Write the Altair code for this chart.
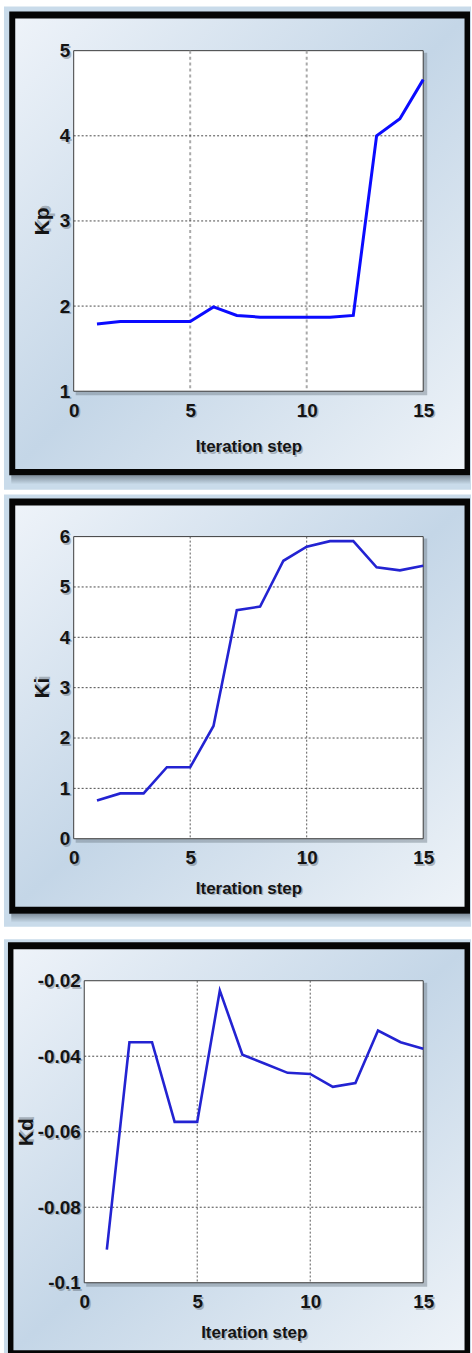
import altair as alt
import pandas as pd

# PID gains recorded at every tuning iteration
steps = list(range(1, 16))
kp = [1.79, 1.82, 1.82, 1.82, 1.82, 1.99, 1.89, 1.87, 1.87, 1.87, 1.87, 1.89, 4.00, 4.20, 4.66]
ki = [0.76, 0.90, 0.90, 1.42, 1.42, 2.24, 4.54, 4.61, 5.52, 5.80, 5.91, 5.91, 5.39, 5.33, 5.42]
kd = [-0.0912, -0.0363, -0.0363, -0.0574, -0.0574, -0.0226, -0.0396, -0.0420,
      -0.0444, -0.0447, -0.0481, -0.0471, -0.0332, -0.0363, -0.0380]

x_ticks = [0, 5, 10, 15]
kp_ticks = [1, 2, 3, 4, 5]
ki_ticks = [0, 1, 2, 3, 4, 5, 6]
kd_ticks = [-0.1, -0.08, -0.06, -0.04, -0.02]

FONT = "Liberation Sans Narrow, Liberation Sans, Arial, sans-serif"
TEXT = "#141414"
SHADOW = "#4d5863"
TILE = "#c9dbea"
LABEL_SIZE, TITLE_SIZE, YTITLE_SIZE = 19, 17, 21
X_PAD, Y_PAD = 10, 4

inner_fill = alt.LinearGradient(
    gradient="linear", x1=0, y1=0, x2=1, y2=1,
    stops=[alt.GradientStop(color="#eef3f9", offset=0),
           alt.GradientStop(color="#c4d6e7", offset=0.5),
           alt.GradientStop(color="#eef3f8", offset=1)],
)
border_shadow = alt.LinearGradient(
    gradient="linear", x1=0, y1=0, x2=0, y2=1,
    stops=[alt.GradientStop(color="#7f8e9b", offset=0),
           alt.GradientStop(color=TILE, offset=1)],
)

one = pd.DataFrame({"k": [0]})


def box(x0, x1, y0, y1, **mark):
    return alt.Chart(one).mark_rect(**mark).encode(
        x=alt.value(x0), x2=alt.value(x1), y=alt.value(y0), y2=alt.value(y1)
    )


def shade_text(df, **enc):
    # soft grey copy of a label, sitting just below/right of the real one
    return alt.Chart(df).mark_text(
        font=enc.pop("font"), fontSize=enc.pop("size"), fontWeight="bold",
        color=SHADOW, opacity=0.38, dx=2, dy=2, **enc.pop("mark", {})
    ).encode(**enc)


def panel(values, label, yticks, ydomain, h, geo, color, stroke_w, vgrid_style):
    w = 351
    px = geo.get("plot_left", 0)      # left edge of the plotting box inside the panel
    data = pd.DataFrame({"step": steps, "value": values})
    xs = alt.Scale(domain=[0, 15], range=[px, w], nice=False, zero=False)
    ys = alt.Scale(domain=ydomain, nice=False, zero=False)
    x_axis = alt.Axis(
        values=x_ticks, title="Iteration step", grid=False, domain=False,
        ticks=False, labelFlush=False, labelOverlap=False, labelPadding=X_PAD,
        labelFont=FONT, labelFontSize=LABEL_SIZE, labelFontWeight="bold", labelColor=TEXT,
        titleFont=FONT, titleFontSize=TITLE_SIZE, titleFontWeight="bold", titleColor=TEXT,
        titleY=geo["xtitle"], titleBaseline="middle", zindex=1)
    y_axis = alt.Axis(
        values=yticks, title=label, grid=False, domain=False, ticks=False,
        labelFlush=False, labelOverlap=False, labelPadding=Y_PAD,
        labelExpr="toString(datum.value)", offset=-px,
        labelFont=FONT, labelFontSize=LABEL_SIZE, labelFontWeight="bold", labelColor=TEXT,
        titleFont=FONT, titleFontSize=YTITLE_SIZE, titleFontWeight="bold", titleColor=TEXT,
        titleX=geo["ytitle"], titleBaseline="middle", zindex=1)

    tl, tt, tb = geo["tile"]          # left, top, bottom of the outer tile
    bl, bt, bb = geo["border"]        # outer edge of the black frame
    il, it, ib = geo["inner"]         # inner edge of the black frame
    right_tile, right_outer, right_inner = w + 48, w + 47, w + 41.5

    layers = [
        box(tl, right_tile, tt, geo["extent"], opacity=0),
        box(tl, right_tile, tt, tb, fill=TILE),
        box(bl + 2, right_outer, bb, min(bb + 9, tb), fill=border_shadow),
        box(bl, right_outer, bt, bb, fill="#050505"),
        box(il, right_inner, it, ib, fill=inner_fill),
        box(px + 2, w + 4, 2, h + 4, fill="#6f7c88", opacity=0.45),
        box(px, w, 0, h, fill="white", stroke="#3a3a3a", strokeWidth=1),
    ]

    xl = pd.DataFrame({"step": x_ticks, "txt": [str(v) for v in x_ticks]})
    yl = pd.DataFrame({"value": yticks, "txt": [str(v) for v in yticks]})
    shadows = [
        shade_text(xl, font=FONT, size=LABEL_SIZE, mark={"baseline": "top"},
                   x=alt.X("step:Q", scale=xs, axis=x_axis),
                   y=alt.value(h + X_PAD), text="txt:N"),
        shade_text(yl, font=FONT, size=LABEL_SIZE,
                   mark={"align": "right", "baseline": "middle"},
                   y=alt.Y("value:Q", scale=ys, axis=y_axis),
                   x=alt.value(px - Y_PAD), text="txt:N"),
        shade_text(pd.DataFrame({"txt": ["Iteration step"]}), font=FONT, size=TITLE_SIZE,
                   mark={"baseline": "middle"},
                   x=alt.value((px + w) / 2), y=alt.value(h + geo["xtitle"]), text="txt:N"),
        shade_text(pd.DataFrame({"txt": [label]}), font=FONT, size=YTITLE_SIZE,
                   mark={"baseline": "middle", "angle": 270},
                   x=alt.value(px + geo["ytitle"]), y=alt.value(h / 2), text="txt:N"),
    ]

    line = alt.Chart(data).mark_line(color=color, strokeWidth=stroke_w).encode(
        x=alt.X("step:Q", scale=xs, axis=x_axis),
        y=alt.Y("value:Q", scale=ys, axis=y_axis),
    )
    vgrid = alt.Chart(pd.DataFrame({"step": x_ticks[1:-1]})).mark_rule(
        **vgrid_style
    ).encode(x=alt.X("step:Q", scale=xs, axis=x_axis), y=alt.value(0), y2=alt.value(h))
    hgrid = alt.Chart(pd.DataFrame({"value": yticks[1:-1]})).mark_rule(
        color="#4a4a4a", strokeDash=[2, 2], strokeWidth=1
    ).encode(y=alt.Y("value:Q", scale=ys, axis=y_axis),
             x=alt.value(px), x2=alt.value(w))

    return alt.layer(*layers, *shadows, vgrid, hgrid, line).properties(width=w, height=h)


light_vgrid = {"color": "#a9a9a9", "strokeDash": [3, 3], "strokeWidth": 2}
dark_vgrid = {"color": "#5a5a5a", "strokeDash": [2, 2], "strokeWidth": 1}

p1 = panel(kp, "Kp", kp_ticks, [1, 5], 342,
           {"tile": (-70, -44.3, 441), "border": (-64.7, -39.3, 426.5),
            "inner": (-58.7, -32.3, 420), "extent": 441, "xtitle": 56, "ytitle": -31},
           "#0b0bff", 3, light_vgrid)
p2 = panel(ki, "Ki", ki_ticks, [0, 6], 303.4,
           {"tile": (-70, -42.3, 391.7), "border": (-64.7, -38.3, 378.7),
            "inner": (-58.7, -31.3, 371.7), "extent": 398.7, "xtitle": 50, "ytitle": -31.7},
           "#2323d2", 2.6, dark_vgrid)
p3 = panel(kd, "Kd", kd_ticks, [-0.1, -0.02], 303.3,
           {"tile": (-70, -41.7, 376), "border": (-66, -38.7, 376),
            "inner": (-60.5, -31.7, 371), "extent": 376, "xtitle": 50, "ytitle": -58,
            "plot_left": 10.6},
           "#2323d2", 2.6, dark_vgrid)

chart = alt.vconcat(p1, p2, p3, spacing=3).properties(
    padding={"left": 3, "top": 3, "right": 0, "bottom": 0},
    background="white",
).configure_view(stroke="transparent")

chart.save("out.html", embed_options={"renderer": "svg", "actions": False})
